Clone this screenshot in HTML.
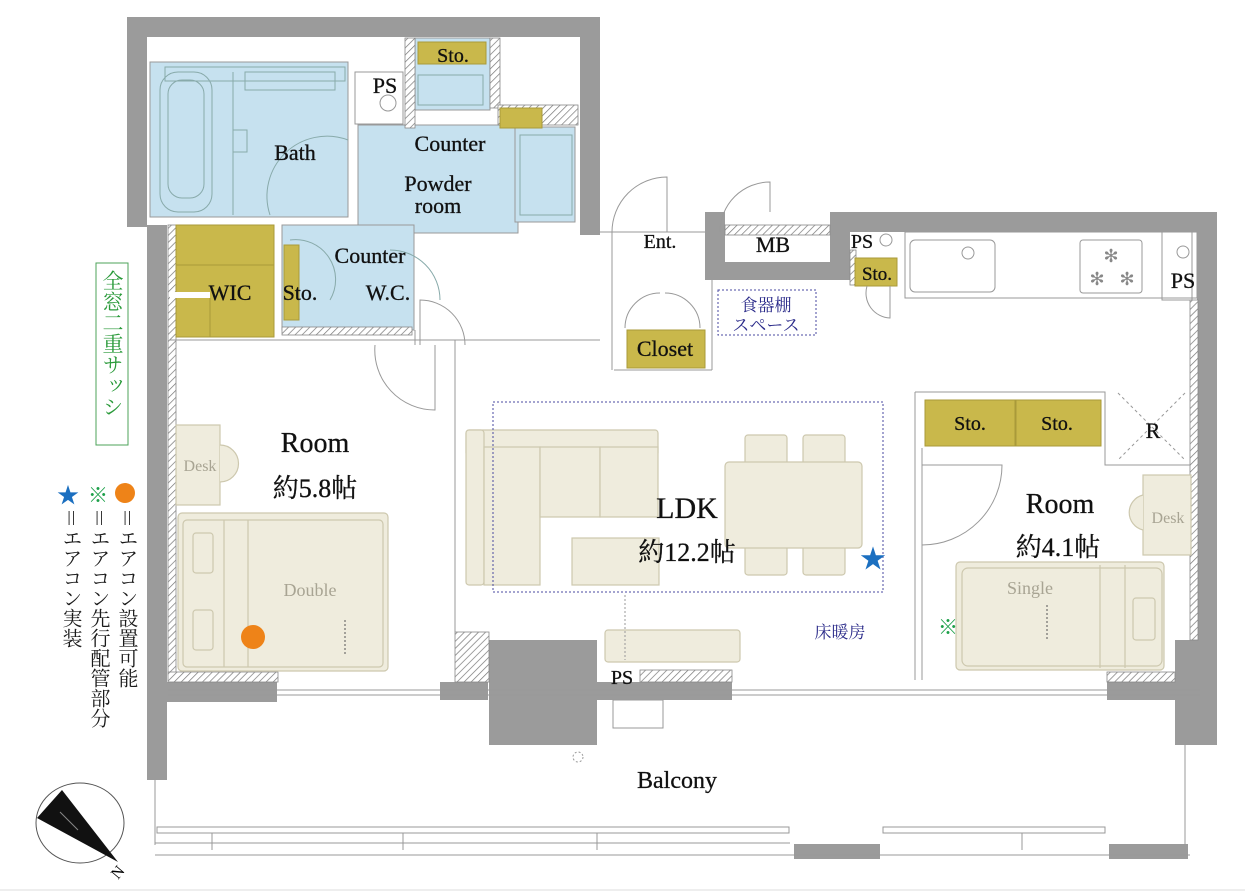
<!DOCTYPE html>
<html><head><meta charset="utf-8"><style>
html,body{margin:0;padding:0;background:#fff}
svg{display:block}
text{font-family:"Liberation Serif","Noto Serif CJK SC",serif}
.j{font-family:"Liberation Serif","Noto Serif CJK SC","Noto Sans CJK JP",serif}
</style></head><body>
<svg width="1245" height="893" viewBox="0 0 1245 893" xmlns="http://www.w3.org/2000/svg">
<defs>
<pattern id="h" width="5" height="5" patternUnits="userSpaceOnUse" patternTransform="rotate(45)">
<rect width="5" height="5" fill="#fff"/><line x1="0" y1="0" x2="0" y2="5" stroke="#777" stroke-width="1.4"/></pattern>
</defs>
<rect width="1245" height="893" fill="#fff"/>
<line x1="0" y1="890" x2="1245" y2="890" stroke="#ddd"/>

<g fill="#c6e1ef" stroke="#999" stroke-width="1">
<rect x="150" y="62" width="198" height="155"/>
<rect x="358" y="125" width="160" height="108"/>
<rect x="515" y="127" width="60" height="95"/>
<rect x="415" y="38" width="75" height="72"/>
<rect x="282" y="225" width="132" height="105"/>
</g>
<g fill="none" stroke="#8aa" stroke-width="1">
<rect x="160" y="72" width="52" height="140" rx="18"/>
<rect x="168" y="80" width="36" height="118" rx="14"/>
<rect x="165" y="67" width="180" height="14"/>
<rect x="245" y="72" width="90" height="18"/>
<rect x="233" y="130" width="14" height="22"/>
<line x1="233" y1="72" x2="233" y2="215"/>
<path d="M270 215 A60 60 0 0 1 348 140"/>
<rect x="520" y="135" width="52" height="80"/>
<rect x="418" y="75" width="65" height="30"/>
<path d="M290 240 A40 40 0 0 1 330 300" />
<path d="M440 300 A50 50 0 0 0 390 250"/>
</g>
<g fill="#9b9b9b">
<rect x="127" y="17" width="473" height="20"/>
<rect x="127" y="17" width="20" height="210"/>
<rect x="147" y="225" width="20" height="555"/>
<rect x="580" y="17" width="20" height="218"/>
<rect x="830" y="212" width="387" height="20"/>
<rect x="1197" y="212" width="20" height="470"/>
<rect x="1175" y="640" width="42" height="105"/>
<rect x="705" y="212" width="20" height="68"/>
<rect x="705" y="262" width="128" height="18"/>
<rect x="830" y="212" width="20" height="68"/>
<rect x="147" y="682" width="130" height="20"/>
<rect x="440" y="682" width="48" height="18"/>
<rect x="489" y="640" width="108" height="105"/>
<rect x="596" y="682" width="136" height="18"/>
<rect x="1107" y="682" width="110" height="18"/>
<rect x="794" y="844" width="86" height="15"/>
<rect x="1109" y="844" width="79" height="15"/>
</g>
<g fill="url(#h)" stroke="#888" stroke-width="0.8">
<rect x="405" y="38" width="10" height="90"/>
<rect x="490" y="38" width="10" height="70"/>
<rect x="498" y="105" width="80" height="20"/>
<rect x="168" y="225" width="8" height="450"/>
<rect x="168" y="672" width="110" height="10"/>
<rect x="282" y="327" width="130" height="8"/>
<rect x="455" y="632" width="34" height="50"/>
<rect x="640" y="670" width="92" height="12"/>
<rect x="1190" y="300" width="8" height="340"/>
<rect x="1107" y="672" width="68" height="10"/>
<rect x="725" y="225" width="105" height="10"/>
<rect x="850" y="250" width="6" height="35"/>
</g>
<g fill="#c9b84b" stroke="#a99a3a" stroke-width="1">
<rect x="418" y="42" width="68" height="22"/>
<rect x="500" y="108" width="42" height="20"/>
<rect x="176" y="225" width="98" height="112"/>
<rect x="284" y="245" width="15" height="75"/>
<rect x="627" y="330" width="78" height="38"/>
<rect x="855" y="258" width="42" height="28"/>
<rect x="925" y="400" width="90" height="46"/>
<rect x="1016" y="400" width="85" height="46"/>
</g>
<rect x="170" y="292" width="40" height="6" fill="#fff"/>
<line x1="176" y1="265" x2="274" y2="265" stroke="#a99a3a"/>
<line x1="210" y1="298" x2="210" y2="337" stroke="#a99a3a"/>
<g fill="none" stroke="#999" stroke-width="1">
<rect x="355" y="72" width="48" height="52" fill="#fff"/>
<circle cx="388" cy="103" r="8"/>
<line x1="415" y1="330" x2="415" y2="345"/>
<line x1="170" y1="340" x2="600" y2="340"/>
<line x1="455" y1="340" x2="455" y2="632"/>
<line x1="612" y1="232" x2="612" y2="370"/>
<line x1="600" y1="232" x2="705" y2="232"/>
<line x1="614" y1="370" x2="712" y2="370"/>
<line x1="712" y1="280" x2="712" y2="370"/>
<path d="M612 232 A55 55 0 0 1 667 177 L667 232"/>
<path d="M720 232 A50 50 0 0 1 770 182 L770 212"/>
<path d="M625 328 A35 35 0 0 1 660 293"/>
<path d="M700 328 A35 35 0 0 0 665 293"/>
<path d="M420 345 L420 300 A45 45 0 0 1 465 345"/>
<path d="M375 345 A60 60 0 0 0 435 410 L435 345"/>
<rect x="905" y="232" width="292" height="66" />
<rect x="910" y="240" width="85" height="52" rx="5"/>
<circle cx="968" cy="253" r="6"/>
<rect x="1080" y="240" width="62" height="53" rx="3"/>
<rect x="1162" y="232" width="30" height="68"/>
<circle cx="1183" cy="252" r="6"/>
<circle cx="886" cy="240" r="6"/>
<path d="M867 286 A25 25 0 0 0 890 318 L890 286"/>
<path d="M915 392 L1105 392 L1105 465 L1190 465"/>
<line x1="915" y1="392" x2="915" y2="680"/>
<line x1="922" y1="448" x2="922" y2="680"/>
<path d="M922 545 A80 80 0 0 0 1002 465 L922 465"/>
<g stroke-dasharray="3 3"><line x1="1118" y1="393" x2="1185" y2="460"/><line x1="1185" y1="393" x2="1118" y2="460"/></g>
<line x1="168" y1="690" x2="1200" y2="690"/>
<line x1="168" y1="695" x2="1200" y2="695"/>
<rect x="613" y="700" width="50" height="28"/>
<circle cx="578" cy="757" r="5" stroke-dasharray="2 2"/>
<line x1="155" y1="780" x2="155" y2="845"/>
<line x1="1185" y1="745" x2="1185" y2="845"/>
<rect x="157" y="827" width="632" height="6"/>
<rect x="883" y="827" width="222" height="6"/>
<line x1="155" y1="843" x2="790" y2="843"/>
<line x1="155" y1="855" x2="1190" y2="855"/>
<line x1="212" y1="833" x2="212" y2="850"/><line x1="403" y1="833" x2="403" y2="850"/><line x1="597" y1="833" x2="597" y2="850"/>
<line x1="1022" y1="833" x2="1022" y2="850"/>
</g>
<g fill="#888" font-size="18" text-anchor="middle"><text x="1111" y="262">✻</text><text x="1097" y="285">✻</text><text x="1127" y="285">✻</text></g>
<g fill="#efecdd" stroke="#cdc8ae" stroke-width="1.2">
<rect x="176" y="425" width="44" height="80"/>
<path d="M220 445 A18 18 0 0 1 220 482"/>
<rect x="178" y="513" width="210" height="158" rx="4"/>
<rect x="183" y="520" width="200" height="147" rx="4"/>
<rect x="193" y="533" width="20" height="40" rx="3"/>
<rect x="193" y="610" width="20" height="40" rx="3"/>
<line x1="224" y1="520" x2="224" y2="667"/>
<line x1="248" y1="520" x2="248" y2="667"/>
<rect x="466" y="430" width="192" height="26" rx="3"/>
<rect x="466" y="430" width="18" height="155" rx="3"/>
<rect x="484" y="447" width="56" height="138"/>
<rect x="540" y="447" width="60" height="70"/><rect x="600" y="447" width="58" height="70"/>
<rect x="572" y="538" width="87" height="47"/>
<rect x="745" y="435" width="42" height="30" rx="3"/><rect x="803" y="435" width="42" height="30" rx="3"/>
<rect x="745" y="545" width="42" height="30" rx="3"/><rect x="803" y="545" width="42" height="30" rx="3"/>
<rect x="725" y="462" width="137" height="86" rx="4"/>
<rect x="605" y="630" width="135" height="32" rx="3"/>
<rect x="1143" y="475" width="48" height="80"/>
<path d="M1143 495 A18 18 0 0 0 1143 530"/>
<rect x="956" y="562" width="208" height="108" rx="4"/>
<rect x="962" y="568" width="200" height="98" rx="6"/>
<line x1="1100" y1="565" x2="1100" y2="668"/><line x1="1125" y1="565" x2="1125" y2="668"/>
<rect x="1133" y="598" width="22" height="42" rx="3"/>
</g>
<rect x="493" y="402" width="390" height="190" fill="none" stroke="#4a4aa0" stroke-width="1" stroke-dasharray="2 2"/>
<rect x="718" y="290" width="98" height="45" fill="none" stroke="#4a4aa0" stroke-width="1" stroke-dasharray="2 2"/>
<line x1="345" y1="620" x2="345" y2="655" stroke="#555" stroke-dasharray="2 2"/>
<line x1="1047" y1="605" x2="1047" y2="640" stroke="#555" stroke-dasharray="2 2"/>
<line x1="625" y1="595" x2="625" y2="660" stroke="#999" stroke-dasharray="2 2"/>
<circle cx="253" cy="637" r="12" fill="#ee8318"/>

<g fill="#111" font-size="22" stroke="#111" stroke-width="0.3">
<text x="453" y="62" font-size="20" text-anchor="middle">Sto.</text>
<text x="385" y="93" text-anchor="middle">PS</text>
<text x="295" y="160" text-anchor="middle">Bath</text>
<text x="450" y="151" text-anchor="middle">Counter</text>
<text x="438" y="191" text-anchor="middle">Powder</text>
<text x="438" y="213" text-anchor="middle">room</text>
<text x="370" y="263" text-anchor="middle">Counter</text>
<text x="230" y="300" text-anchor="middle">WIC</text>
<text x="300" y="300" text-anchor="middle">Sto.</text>
<text x="388" y="300" text-anchor="middle">W.C.</text>
<text x="660" y="248" font-size="20" text-anchor="middle">Ent.</text>
<text x="773" y="252" text-anchor="middle">MB</text>
<text x="862" y="248" font-size="20" text-anchor="middle">PS</text>
<text x="877" y="280" font-size="19" text-anchor="middle">Sto.</text>
<text x="1183" y="288" text-anchor="middle">PS</text>
<text x="665" y="356" text-anchor="middle">Closet</text>
<text x="970" y="430" font-size="20" text-anchor="middle">Sto.</text>
<text x="1057" y="430" font-size="20" text-anchor="middle">Sto.</text>
<text x="1153" y="438" text-anchor="middle">R</text>
<text x="315" y="452" font-size="28" text-anchor="middle">Room</text>
<text x="315" y="497" font-size="26" text-anchor="middle" class="j">約5.8帖</text>
<text x="687" y="518" font-size="30" text-anchor="middle">LDK</text>
<text x="687" y="561" font-size="26" text-anchor="middle" class="j">約12.2帖</text>
<text x="1060" y="513" font-size="28" text-anchor="middle">Room</text>
<text x="1058" y="556" font-size="26" text-anchor="middle" class="j">約4.1帖</text>
<text x="622" y="684" font-size="20" text-anchor="middle">PS</text>
<text x="677" y="788" font-size="24" text-anchor="middle">Balcony</text>
</g>
<g fill="#a8a493" font-size="18" text-anchor="middle">
<text x="200" y="471" font-size="16">Desk</text>
<text x="310" y="596">Double</text>
<text x="1030" y="594">Single</text>
<text x="1168" y="523" font-size="16">Desk</text>
</g>
<g fill="#2b2b8a" class="j" font-size="17" text-anchor="middle">
<text x="766" y="311">食器棚</text>
<text x="766" y="331">スペース</text>
<text x="840" y="638">床暖房</text>
</g>
<text x="873" y="568" font-size="26" fill="#1b6fc0" text-anchor="middle">★</text>
<text x="948" y="634" font-size="20" fill="#1da04a" text-anchor="middle" class="j">※</text>

<rect x="96" y="263" width="32" height="182" fill="#fff" stroke="#4ca35a"/>
<text class="j" fill="#2a9a3a" font-size="21" style="writing-mode:vertical-rl" x="112" y="270">全窓二重サッシ</text>
<circle cx="125" cy="493" r="10" fill="#ee8318"/>
<text x="98" y="502" font-size="20" fill="#1da04a" text-anchor="middle" class="j">※</text>
<text x="68" y="503" font-size="22" fill="#1b6fc0" text-anchor="middle">★</text>
<g class="j" fill="#1a1a1a" font-size="20" style="writing-mode:vertical-rl">
<text x="126" y="508">＝エアコン設置可能</text>
<text x="98" y="508">＝エアコン先行配管部分</text>
<text x="70" y="508">＝エアコン実装</text>
</g>
<ellipse cx="80" cy="823" rx="44" ry="40" fill="#fff" stroke="#555"/>
<polygon points="37,818 62,790 118,862" fill="#111"/>
<line x1="60" y1="812" x2="78" y2="830" stroke="#888"/>
<text x="118" y="880" font-size="16" transform="rotate(-50 118 880)">N</text>
</svg>
</body></html>
